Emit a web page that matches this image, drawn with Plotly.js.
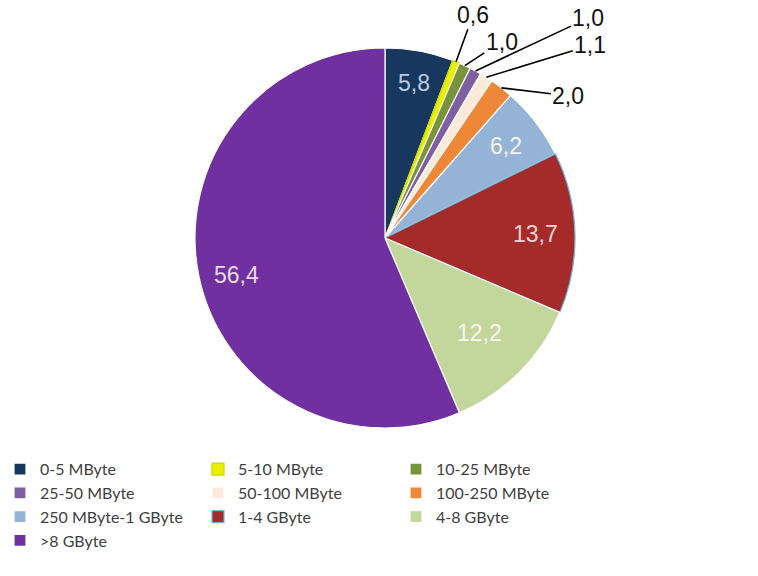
<!DOCTYPE html>
<html><head><meta charset="utf-8">
<script src="https://cdn.plot.ly/plotly-3.0.1.min.js"></script>
<style>body{margin:0;background:#fff}#c{width:758px;height:576px}</style>
</head><body><div id="c"></div>
<script>
const categories = ['0-5 MByte','5-10 MByte','10-25 MByte','25-50 MByte','50-100 MByte','100-250 MByte','250 MByte-1 GByte','1-4 GByte','4-8 GByte','>8 GByte'];
const shares = [5.8, 0.6, 1.0, 1.0, 1.1, 2.0, 6.2, 13.7, 12.2, 56.4];
const colors = ['#17375E','#E8F000','#77933C','#7F5FA0','#FDE9D9','#EE8838','#95B3D7','#A52A2A','#C3D69B','#7030A0'];
const lineColors = ['#ffffff','#C8D800','#ffffff','#ffffff','#ffffff','#ffffff','#ffffff','#6FB7DC','#ffffff','#ffffff'];
const insideTextColors = ['#B8CCE4','#000','#000','#000','#000','#000','#F4F4F4','#F8D4D4','#F6F9EE','#E8DAF6'];
// outside labels: index -> text offset in px (style)
const outsideOffsets = {1:[17,-47], 2:[37,-24], 3:[113,-53], 4:[104,-32], 5:[67,8]};
// inside labels: index -> [radial fraction, x shift, y shift] (style)
const insidePlace = {0:[0.83,0,0], 6:[0.80,0,0], 7:[0.79,0,0], 8:[0.67,4,-5], 9:[0.80,0,-7]};

const W = 758, H = 576, cx = 385, cy = 238, R = 190;
const fmt = v => v.toFixed(1).replace('.', ',');
const FONT = 'Liberation Sans, Arial, sans-serif';

const total = shares.reduce((a,b)=>a+b,0);
let cum = 0;
const annotations = [];
shares.forEach((v,i) => {
  const mid = (cum + v/2) / total * 2 * Math.PI;
  cum += v;
  if (outsideOffsets[i]) {
    const px = cx + R*Math.sin(mid), py = cy - R*Math.cos(mid);
    annotations.push({
      x: px / W, y: 1 - py / H, xref: 'paper', yref: 'paper',
      text: fmt(v), showarrow: true, arrowhead: 0, arrowwidth: 1.6, arrowcolor: '#000',
      ax: outsideOffsets[i][0], ay: outsideOffsets[i][1], standoff: 0,
      font: {family: FONT, size: 23, color: '#111'}
    });
  } else if (insidePlace[i]) {
    const [f, sx, sy] = insidePlace[i];
    const rr = R*f;
    const px = cx + rr*Math.sin(mid), py = cy - rr*Math.cos(mid);
    annotations.push({
      x: px / W, y: 1 - py / H, xref: 'paper', yref: 'paper', showarrow: false,
      xanchor: 'center', yanchor: 'middle', xshift: sx, yshift: sy,
      text: fmt(v), font: {family: FONT, size: 23, color: insideTextColors[i]}
    });
  }
});

const trace = {
  type: 'pie', labels: categories, values: shares, sort: false, direction: 'clockwise', rotation: 0,
  marker: {colors: colors, line: {color: lineColors, width: 1.2}},
  textinfo: 'none',
  domain: {x: [(cx-R)/W, (cx+R)/W], y: [1-(cy+R)/H, 1-(cy-R)/H]},
  hoverinfo: 'label+value'
};

const layout = {
  width: W, height: H, margin: {l:0, r:0, t:0, b:0}, paper_bgcolor: '#fff',
  separators: ', ', showlegend: true,
  legend: {orientation: 'h', x: 0, xanchor: 'left', y: 0.215, yanchor: 'top',
    itemwidth: 30, entrywidth: 153, entrywidthmode: 'pixels', traceorder: 'normal',
    font: {family: 'Lato, Liberation Sans, sans-serif', size: 16, color: '#404040'}},
  annotations: annotations
};
Plotly.newPlot('c', [trace], layout, {displayModeBar: false, staticPlot: true});
</script></body></html>
